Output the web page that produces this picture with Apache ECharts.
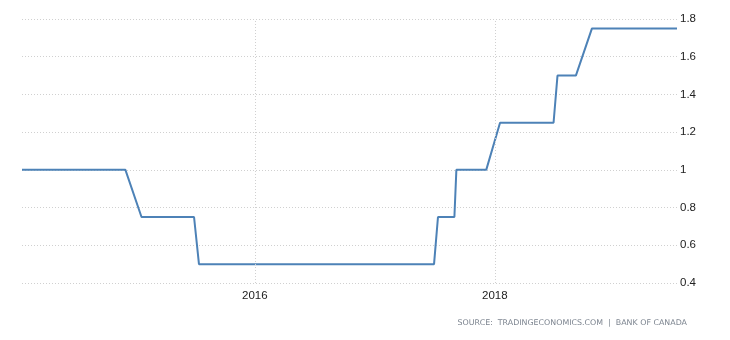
<!DOCTYPE html>
<html>
<head>
<meta charset="utf-8">
<script src="https://cdn.jsdelivr.net/npm/echarts@6/dist/echarts.min.js"></script>
<style>html,body{margin:0;padding:0;background:#fff}#c{width:730px;height:340px}</style>
</head>
<body>
<div id="c"></div>
<script>
// Bank of Canada policy rate (%), observation dates
const dates = [
  '2014-01-22','2014-03-05','2014-04-16','2014-06-04','2014-07-16','2014-09-03','2014-10-22','2014-12-03',
  '2015-01-21','2015-03-04','2015-04-15','2015-05-27','2015-06-30','2015-07-15','2015-09-09','2015-10-21','2015-12-02',
  '2016-01-20','2016-03-09','2016-04-13','2016-05-25','2016-07-13','2016-09-07','2016-10-19','2016-12-07',
  '2017-01-18','2017-03-01','2017-04-12','2017-05-24','2017-06-30','2017-07-12','2017-08-31','2017-09-06','2017-10-25','2017-12-06',
  '2018-01-17','2018-03-07','2018-04-18','2018-05-30','2018-06-29','2018-07-11','2018-09-05','2018-10-24','2018-12-05',
  '2019-01-09','2019-03-06','2019-04-24','2019-05-29','2019-07-10'
];
const rates = [
  1,1,1,1,1,1,1,1,
  0.75,0.75,0.75,0.75,0.75,0.5,0.5,0.5,0.5,
  0.5,0.5,0.5,0.5,0.5,0.5,0.5,0.5,
  0.5,0.5,0.5,0.5,0.5,0.75,0.75,1,1,1,
  1.25,1.25,1.25,1.25,1.25,1.5,1.5,1.75,1.75,
  1.75,1.75,1.75,1.75,1.75
];
const labelYears = [2016, 2018];
const yMin = 0.4, yMax = 1.8, yStep = 0.2;
const sourceText = 'SOURCE:  TRADINGECONOMICS.COM  |  BANK OF CANADA';

const yearTs = labelYears.map(y => new Date(y, 0, 1).getTime());
const chart = echarts.init(document.getElementById('c'), null, {renderer: 'canvas'});
chart.setOption({
  animation: false,
  grid: {left: 22, right: 53, top: 19, bottom: 57, containLabel: false},
  xAxis: {
    type: 'time',
    min: 'dataMin', max: 'dataMax',
    minInterval: 365 * 86400000,
    axisLine: {show: false},
    axisTick: {show: false},
    splitLine: {show: false},
    axisLabel: {
      margin: 7,
      color: '#222',
      hideOverlap: false,
      fontFamily: 'Liberation Sans, Arial, sans-serif',
      fontSize: 11.5,
      formatter: v => {
        const d = new Date(v);
        return labelYears.includes(d.getFullYear()) && d.getMonth() === 0 && d.getDate() === 1 ? String(d.getFullYear()) : '';
      }
    }
  },
  yAxis: {
    type: 'value',
    position: 'right',
    min: yMin, max: yMax, interval: yStep,
    axisLine: {show: false},
    axisTick: {show: false},
    axisLabel: {margin: 3, color: '#222', fontFamily: 'Liberation Sans, Arial, sans-serif', fontSize: 11.5},
    splitLine: {show: true, lineStyle: {color: '#d0d0d0', type: [1, 2], width: 1}}
  },
  series: [{
    type: 'line',
    data: dates.map((d, i) => [d, rates[i]]),
    showSymbol: false,
    symbol: 'none',
    lineStyle: {color: '#4d82b7', width: 2},
    markLine: {
      silent: true,
      symbol: 'none',
      label: {show: false},
      lineStyle: {color: '#d0d0d0', type: [1, 2], width: 1},
      data: yearTs.map(t => ({xAxis: t}))
    }
  }],
  graphic: [{
    type: 'text',
    right: 43, top: 319,
    style: {text: sourceText, fill: '#7d8590', font: '7.9px "DejaVu Sans", sans-serif'}
  }]
});
</script>
</body>
</html>
